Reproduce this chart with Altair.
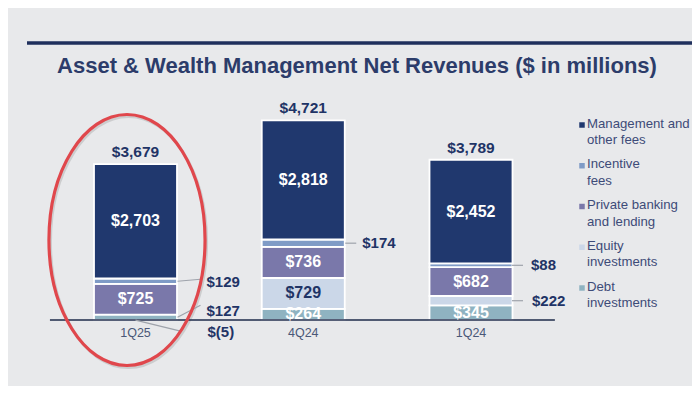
import altair as alt
import pandas as pd

# ---------------- data ----------------
categories = ["1Q25", "4Q24", "1Q24"]
series = ["Debt investments", "Equity investments", "Private banking and lending",
          "Incentive fees", "Management and other fees"]
debt = [127, 264, 345]
equity = [-5, 729, 222]
private_banking = [725, 736, 682]
incentive = [129, 174, 88]
management = [2703, 2818, 2452]
totals = [3679, 4721, 3789]

legend_order = ["Management and other fees", "Incentive fees", "Private banking and lending",
                "Equity investments", "Debt investments"]
legend_text = ["Management and\nother fees", "Incentive\nfees", "Private banking\nand lending",
               "Equity\ninvestments", "Debt\ninvestments"]

title_text = "Asset & Wealth Management Net Revenues ($ in millions)"

# ---------------- styling / layout ----------------
series_colors = ["#8fb3c1", "#cbd7e8", "#7a78aa", "#7f9bc6", "#20386e"]
NAVY = "#1f3466"
W, H = 684, 378
PXX = 167.75          # px per category step
KY = 0.0423           # px per $M
BASE = 312            # chart-y of zero
HALF = 41.5           # half bar width px
Y_MAX = BASE / KY
Y_MIN = -(H - BASE) / KY

XS = alt.Scale(domain=[0, 2], range=[127.5, 463], nice=False, zero=False)
YS = alt.Scale(domain=[Y_MIN, Y_MAX], nice=False, zero=False)
CS = alt.Scale(domain=series, range=series_colors)

# ---------------- build tables ----------------
vals = [debt, equity, private_banking, incentive, management]
rows = []
tops = []
for i, cat in enumerate(categories):
    pos, neg = 0, 0
    for s, v_list in zip(series, vals):
        v = v_list[i]
        if v >= 0:
            y0, y1 = pos, pos + v
            pos += v
        else:
            y0, y1 = neg + v, neg
            neg += v
        lbl = f"${v:,}" if v >= 0 else f"$({-v:,})"
        rows.append(dict(category=cat, xi=i, series=s, value=v, y0=y0, y1=y1,
                         mid=(y0 + y1) / 2, label=lbl,
                         x0=i - HALF / PXX, x1=i + HALF / PXX))
    tops.append(dict(category=cat, xi=i, top=pos, label=f"${totals[i]:,}"))
seg = pd.DataFrame(rows)
tot = pd.DataFrame(tops)

inside_white = [("1Q25", "Management and other fees"), ("4Q24", "Management and other fees"),
                ("1Q24", "Management and other fees"), ("1Q25", "Private banking and lending"),
                ("4Q24", "Private banking and lending"), ("1Q24", "Private banking and lending"),
                ("4Q24", "Debt investments"), ("1Q24", "Debt investments")]
inside_navy = [("4Q24", "Equity investments")]

def pick(pairs):
    keys = set(pairs)
    return seg[[(c, s) in keys for c, s in zip(seg.category, seg.series)]].copy()

in_w = pick(inside_white)
in_n = pick(inside_navy)

# external labels: leader start (sx, sy), leader end (ex, ey), text (tx, ty) px offsets
# relative to bar centre and segment middle (y downward)
ext_spec = [
    ("1Q25", "Incentive fees", 42, 0, 65, -2, 71, 1),
    ("1Q25", "Debt investments", 42, 0, 65, -12, 71, -6),
    ("1Q25", "Equity investments", 0, 0, 45, 11, 72, 12),
    ("4Q24", "Incentive fees", 42, 0, 53, 0, 59, 0),
    ("1Q24", "Incentive fees", 41, 0, 52, 0, 60, 0),
    ("1Q24", "Equity investments", 41, 0, 52, 0, 61, 0),
]
ext_rows = []
for cat, s, sx, sy, ex, ey, tx, ty in ext_spec:
    r = seg[(seg.category == cat) & (seg.series == s)].iloc[0]
    ext_rows.append(dict(label=r.label,
                         lx0=r.xi + sx / PXX, ly0=r.mid - sy / KY,
                         lx1=r.xi + ex / PXX, ly1=r.mid - ey / KY,
                         tx=r.xi + tx / PXX, ty=r.mid - ty / KY))
ext = pd.DataFrame(ext_rows)

leg = pd.DataFrame(dict(series=legend_order, text=legend_text, i=range(5)))
cat_df = pd.DataFrame(dict(category=categories, xi=range(3), zero=0))
one = pd.DataFrame([{"k": 1}])

# ---------------- layers ----------------
top_line = alt.Chart(one).mark_rule(color="#1f2f5c", strokeWidth=3.5).encode(
    x=alt.value(19), x2=alt.value(685), y=alt.value(35))

title = alt.Chart(one).mark_text(text=title_text, font="Liberation Sans", fontSize=22,
                                  fontWeight="bold", color="#2c3c6a", align="center",
                                  baseline="middle").encode(x=alt.value(349), y=alt.value(57.5))

bars = alt.Chart(seg).mark_bar(stroke="white", strokeWidth=1.8).encode(
    x=alt.X("x0:Q", scale=XS, axis=None), x2="x1:Q",
    y=alt.Y("y0:Q", scale=YS, axis=None), y2="y1:Q",
    color=alt.Color("series:N", scale=CS, legend=None))

base_line = alt.Chart(one).mark_rule(color="#1e2a4a", strokeWidth=1.5).encode(
    x=alt.datum(-0.51, scale=XS), x2=alt.datum(2.5), y=alt.datum(0, scale=YS))

cat_labels = alt.Chart(cat_df).mark_text(fontSize=12.5, color="#4a5878", baseline="middle",
                                         dy=13).encode(
    x=alt.X("xi:Q", scale=XS), y=alt.Y("zero:Q", scale=YS), text="category:N")

tot_labels = alt.Chart(tot).mark_text(fontSize=15.5, fontWeight="bold", color=NAVY,
                                      baseline="middle", dy=-12).encode(
    x=alt.X("xi:Q", scale=XS), y=alt.Y("top:Q", scale=YS), text="label:N")

in_white = alt.Chart(in_w).mark_text(fontSize=16, fontWeight="bold", color="white",
                                     baseline="middle").encode(
    x=alt.X("xi:Q", scale=XS), y=alt.Y("mid:Q", scale=YS), text="label:N")

in_navy = alt.Chart(in_n).mark_text(fontSize=16, fontWeight="bold", color=NAVY,
                                    baseline="middle").encode(
    x=alt.X("xi:Q", scale=XS), y=alt.Y("mid:Q", scale=YS), text="label:N")

leaders = alt.Chart(ext).mark_rule(color="#9ea3ab", strokeWidth=1.2).encode(
    x=alt.X("lx0:Q", scale=XS), x2="lx1:Q", y=alt.Y("ly0:Q", scale=YS), y2="ly1:Q")

ext_labels = alt.Chart(ext).mark_text(fontSize=15, fontWeight="bold", color=NAVY,
                                      align="left", baseline="middle").encode(
    x=alt.X("tx:Q", scale=XS), y=alt.Y("ty:Q", scale=YS), text="label:N")

ellipse_path = "M -0.622 0 A 0.622 1 0 1 0 0.622 0 A 0.622 1 0 1 0 -0.622 0 Z"
ellipse_shadow = alt.Chart(one).mark_point(shape=ellipse_path, size=63000, filled=False,
                                           stroke="#9a9a9a", strokeWidth=3, opacity=0.35).encode(
    x=alt.value(120.5), y=alt.value(234))
ellipse = alt.Chart(one).mark_point(shape=ellipse_path, size=63000, filled=False,
                                    stroke="#e0474c", strokeWidth=3.2, opacity=1).encode(
    x=alt.value(119), y=alt.value(232))

leg_sq = alt.Chart(leg).transform_calculate(ly="117 + 40.75 * datum.i").mark_square(
    size=30, opacity=1).encode(
    x=alt.value(574), y=alt.Y("ly:Q", scale=None),
    color=alt.Color("series:N", scale=CS, legend=None))

leg_tx = alt.Chart(leg).transform_calculate(ly="109.5 + 40.75 * datum.i").mark_text(
    align="left", baseline="top", lineBreak="\n", lineHeight=16.5, fontSize=13.2,
    color="#3d4b78").encode(
    x=alt.value(579), y=alt.Y("ly:Q", scale=None), text="text:N")

chart = alt.layer(
    top_line, title, ellipse_shadow, bars, base_line, cat_labels, tot_labels, in_white, in_navy,
    leaders, ext_labels, ellipse, leg_sq, leg_tx
).properties(
    width=W, height=H, padding=0, autosize=alt.AutoSizeParams(type="none")
).configure(
    background="#e8e9eb", font="Liberation Sans"
).configure_view(stroke=None)

chart.save("out.html", embed_options={"renderer": "svg", "actions": False})
